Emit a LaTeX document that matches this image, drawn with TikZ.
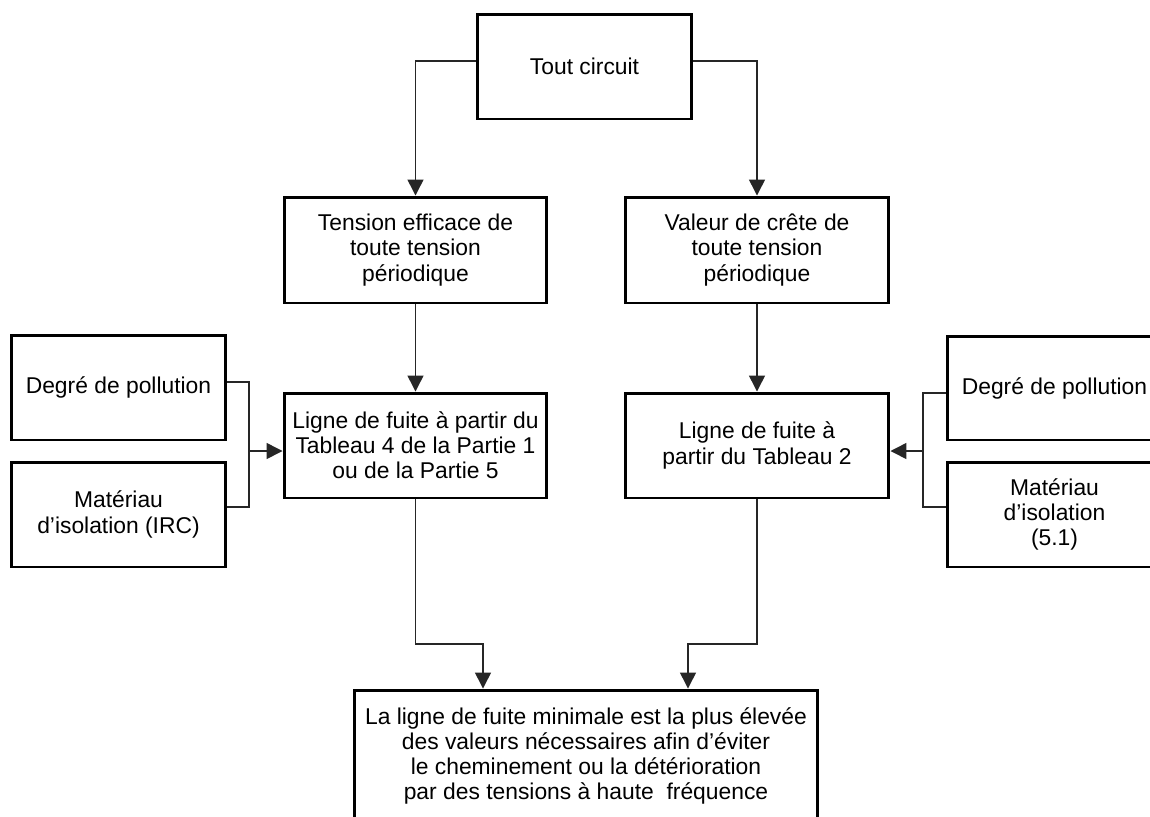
\documentclass[tikz,border=0pt]{standalone}
\usepackage{fontspec}
\setmainfont{Liberation Sans}
\usetikzlibrary{arrows.meta}
\tikzset{
  box/.style={draw=black, line width=1.7pt, align=center, inner sep=2pt,
    font=\fontsize{13pt}{14.3pt}\selectfont},
  conn/.style={draw=black!85, line width=0.8pt},
  arr/.style={-{Triangle[length=9pt,width=9pt]}}
}
\begin{document}
\begin{tikzpicture}[x=0.02cm,y=-0.02cm]
\useasboundingbox (0,0) rectangle (1150,816);
\clip (0,0) rectangle (1150,816);
% nodes
\node[box, minimum width=4.30cm, minimum height=2.10cm] (top) at (584.5,66.5) {Tout circuit};
\node[box, minimum width=5.26cm, minimum height=2.12cm] (tens) at (415.5,250) {Tension efficace de\\toute tension\\périodique};
\node[box, minimum width=5.28cm, minimum height=2.12cm] (val) at (757,250) {Valeur de crête de\\toute tension\\périodique};
\node[box, minimum width=5.26cm, minimum height=2.10cm] (lfl) at (415.5,445.5) {Ligne de fuite à partir du\\Tableau 4 de la Partie 1\\ou de la Partie 5};
\node[box, minimum width=5.28cm, minimum height=2.10cm] (lfr) at (757,445.5) {Ligne de fuite à\\partir du Tableau 2};
\node[box, minimum width=4.30cm, minimum height=2.10cm] (degl) at (118.5,387.5) {\raisebox{3pt}{Degré de pollution}};
\node[box, minimum width=4.30cm, minimum height=2.10cm] (matl) at (118.5,514.5) {Matériau\\d’isolation (IRC)};
\node[box, minimum width=4.30cm, minimum height=2.08cm] (degr) at (1054.5,388) {Degré de pollution};
\node[box, minimum width=4.30cm, minimum height=2.10cm] (matr) at (1054.5,514.5) {Matériau\\d’isolation\\(5.1)};
\node[box, minimum width=9.28cm, minimum height=2.64cm] (bot) at (586,756) {La ligne de fuite minimale est la plus élevée\\des valeurs nécessaires afin d’éviter\\le cheminement ou la détérioration\\par des tensions à haute\ \ fréquence};
% junction points
\coordinate (jl) at (249,451);
\coordinate (jr) at (923,451);
\coordinate (bl) at (483,644);
\coordinate (br) at (688,644);
% connectors
\draw[conn,arr] ([yshift=0.11cm]top.west) -| (tens.north);
\draw[conn,arr] ([yshift=0.11cm]top.east) -| (val.north);
\draw[conn,arr] (tens.south) -- (lfl.north);
\draw[conn,arr] (val.south) -- (lfr.north);
\draw[conn] ([yshift=0.11cm]degl.east) -| (jl) |- ([yshift=0.15cm]matl.east);
\draw[conn,arr] (jl) -- (lfl.west |- jl);
\draw[conn] ([yshift=-0.1cm]degr.west) -| (jr) |- ([yshift=0.15cm]matr.west);
\draw[conn,arr] (jr) -- (lfr.east |- jr);
\draw[conn,arr] (lfl.south) |- (bl) -- (bl |- bot.north);
\draw[conn,arr] (lfr.south) |- (br) -- (br |- bot.north);
\end{tikzpicture}
\end{document}
